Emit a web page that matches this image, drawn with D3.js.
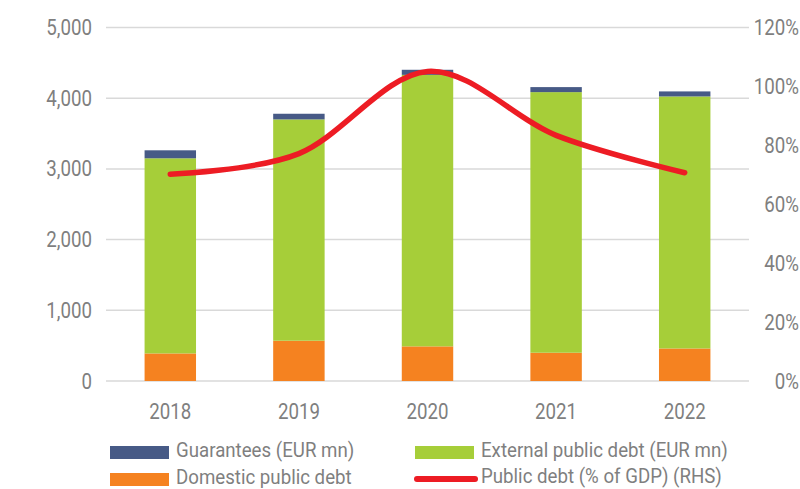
<!DOCTYPE html>
<html>
<head>
<meta charset="utf-8">
<script src="https://cdn.jsdelivr.net/npm/d3@7"></script>
<style>
  body { margin: 0; background: #fff; }
  text { font-family: Roboto, "Noto Sans", sans-serif; fill: #7f7f7f; }
</style>
</head>
<body>
<svg id="chart" width="800" height="489"></svg>
<script>
var years = ['2018', '2019', '2020', '2021', '2022'];
var domestic = [390, 570, 490, 400, 460];
var external = [2760, 3130, 3840, 3686, 3565];
var guarantees = [113, 80, 72, 71, 71];
var debtGdp = [0.702, 0.772, 1.051, 0.834, 0.707];
var leftTicks = [0, 1000, 2000, 3000, 4000, 5000];
var rightTicks = [0, 0.2, 0.4, 0.6, 0.8, 1.0, 1.2];

var svg = d3.select('#chart');
var sx = 0.85; // condensed look

var x = d3.scaleBand()
    .domain(years)
    .range([106, 749])
    .paddingInner(0.6)
    .paddingOuter(0.3);

var y = d3.scaleLinear().domain([0, 5000]).range([381, 27.5]);
var y2 = d3.scaleLinear().domain([0, 1.2]).range([381, 27.5]);

var color = {
    domestic: '#f58220',
    external: '#a6ce39',
    guarantees: '#475a86',
    line: '#ed1c24'
};

function label(g, tx, ty, str, anchor, size, scale) {
    return g.append('text')
        .attr('transform', 'translate(' + tx + ',' + ty + ') scale(' + (scale || sx) + ',1)')
        .attr('text-anchor', anchor)
        .attr('dominant-baseline', 'central')
        .style('font-size', size + 'px')
        .text(str);
}

// gridlines
svg.append('g').selectAll('line')
    .data(leftTicks)
    .join('line')
    .attr('x1', 106)
    .attr('x2', 749)
    .attr('y1', d => y(d))
    .attr('y2', d => y(d))
    .style('stroke', '#d9d9d9')
    .style('stroke-width', 1.5);

// left axis labels
var fmt = d3.format(',');
leftTicks.forEach(function(t) {
    label(svg, 92, y(t), fmt(t), 'end', 22);
});

// right axis labels
rightTicks.forEach(function(t) {
    label(svg, 799, y2(t), Math.round(t * 100) + '%', 'end', 22);
});

// stacked bars
var rows = years.map(function(yr, i) {
    return { year: yr, domestic: domestic[i], external: external[i], guarantees: guarantees[i] };
});
var stack = d3.stack().keys(['domestic', 'external', 'guarantees'])(rows);

svg.append('g').selectAll('g')
    .data(stack)
    .join('g')
    .style('fill', d => color[d.key])
    .selectAll('rect')
    .data(d => d)
    .join('rect')
    .attr('x', d => x(d.data.year))
    .attr('width', x.bandwidth())
    .attr('y', d => y(d[1]))
    .attr('height', d => y(d[0]) - y(d[1]));

// line
var line = d3.line()
    .x((d, i) => x(years[i]) + x.bandwidth() / 2)
    .y(d => y2(d))
    .curve(d3.curveCardinal.tension(0));

svg.append('path')
    .datum(debtGdp)
    .attr('d', line)
    .style('fill', 'none')
    .style('stroke', color.line)
    .style('stroke-width', 5.5)
    .style('stroke-linecap', 'round');

// x labels
years.forEach(function(yr) {
    label(svg, x(yr) + x.bandwidth() / 2, 411, yr, 'middle', 22);
});

// legend
var legend = [
    { name: 'Guarantees (EUR mn)', key: 'guarantees', type: 'rect', lx: 110, ly: 452.5 },
    { name: 'External public debt (EUR mn)', key: 'external', type: 'rect', lx: 415, ly: 452.5 },
    { name: 'Domestic public debt', key: 'domestic', type: 'rect', lx: 110, ly: 479.5 },
    { name: 'Public debt (% of GDP) (RHS)', key: 'line', type: 'line', lx: 415, ly: 479 }
];

legend.forEach(function(l) {
    if (l.type === 'rect') {
        svg.append('rect')
            .attr('x', l.lx)
            .attr('y', l.ly - 6.5)
            .attr('width', 59)
            .attr('height', 13)
            .style('fill', color[l.key]);
    } else {
        svg.append('line')
            .attr('x1', l.lx + 2)
            .attr('x2', l.lx + 60)
            .attr('y1', l.ly)
            .attr('y2', l.ly)
            .style('stroke', color.line)
            .style('stroke-width', 6)
            .style('stroke-linecap', 'round');
    }
    label(svg, l.lx + 66, l.ly - 2.5, l.name, 'start', 21, 0.89);
});
</script>
</body>
</html>
